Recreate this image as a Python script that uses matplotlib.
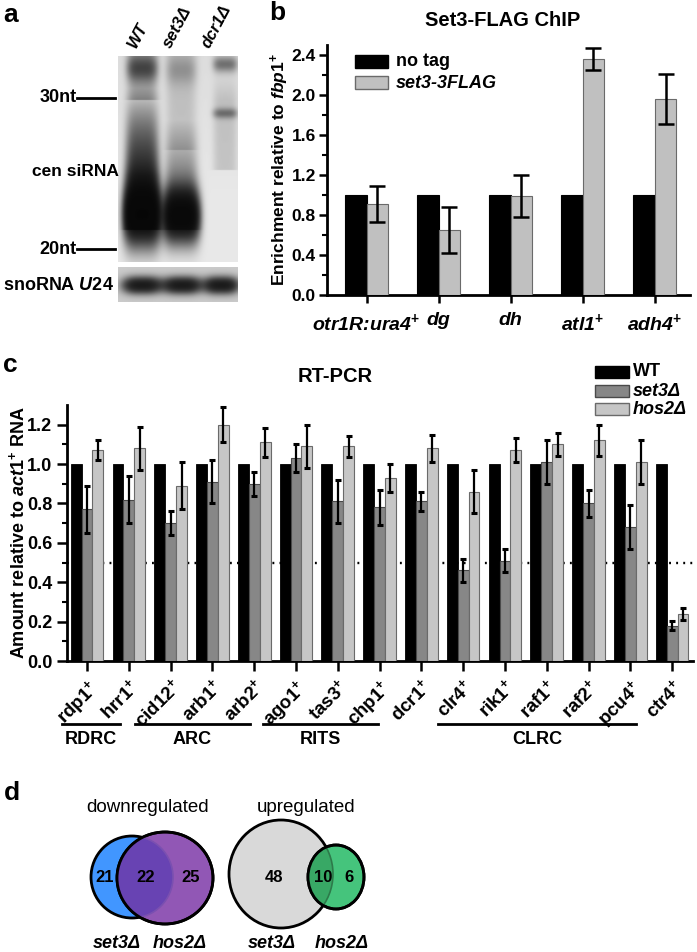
import numpy as np
import matplotlib
matplotlib.use('Agg')
import matplotlib.pyplot as plt
from matplotlib.patches import Ellipse, Rectangle

plt.rcParams['font.family'] = ['Liberation Sans', 'DejaVu Sans']
plt.rcParams['mathtext.fontset'] = 'custom'
plt.rcParams['mathtext.rm'] = 'Liberation Sans:bold'
plt.rcParams['mathtext.it'] = 'Liberation Sans:italic:bold'
plt.rcParams['mathtext.bf'] = 'Liberation Sans:bold'

# ---------------- data ----------------
# panel a (gel lanes)
gel_lanes = ['WT', 'set3Δ', 'dcr1Δ']
gel_markers = ['30nt', '20nt']

# panel b: Set3-FLAG ChIP
chip_loci = ['otr1R:ura4$^{+}$', 'dg', 'dh', 'atl1$^{+}$', 'adh4$^{+}$']
chip_notag = [1.0, 1.0, 1.0, 1.0, 1.0]
chip_flag = [0.91, 0.65, 0.99, 2.36, 1.96]
chip_flag_err = [0.18, 0.23, 0.21, 0.11, 0.25]

# panel c: RT-PCR
genes = ['rdp1', 'hrr1', 'cid12', 'arb1', 'arb2', 'ago1', 'tas3', 'chp1',
         'dcr1', 'clr4', 'rik1', 'raf1', 'raf2', 'pcu4', 'ctr4']
wt_vals = [1.0] * 15
set3_vals = [0.77, 0.82, 0.70, 0.91, 0.90, 1.03, 0.81, 0.78, 0.81, 0.46,
             0.51, 1.01, 0.80, 0.68, 0.18]
set3_err = [0.12, 0.12, 0.06, 0.11, 0.06, 0.07, 0.11, 0.09, 0.05, 0.06,
            0.06, 0.11, 0.07, 0.11, 0.025]
hos2_vals = [1.07, 1.08, 0.89, 1.20, 1.11, 1.09, 1.09, 0.93, 1.08, 0.86,
             1.07, 1.10, 1.12, 1.01, 0.24]
hos2_err = [0.05, 0.11, 0.12, 0.09, 0.075, 0.11, 0.055, 0.07, 0.07, 0.11,
            0.06, 0.06, 0.08, 0.11, 0.03]
complexes = ['RDRC', 'ARC', 'RITS', 'CLRC']

# panel d: Venn counts (set3 only, shared, hos2 only)
down_counts = [21, 22, 25]
up_counts = [48, 10, 6]

# ---------------- figure ----------------
W, H = 697, 952
fig = plt.figure(figsize=(W / 100, H / 100), dpi=100)

def box(l, t, r, b):
    return [l / W, 1 - b / H, (r - l) / W, (b - t) / H]

ov = fig.add_axes([0, 0, 1, 1])
ov.set_xlim(0, W)
ov.set_ylim(H, 0)
ov.axis('off')
ov.set_zorder(10)

FS = 13
def T(x, y, s, size=FS, **kw):
    kw.setdefault('fontweight', 'bold')
    kw.setdefault('ha', 'center')
    kw.setdefault('va', 'center')
    ov.text(x, y, s, fontsize=size, **kw)

# panel letters
T(11, 15, 'a', 19)
T(277, 13, 'b', 19)
T(10, 365, 'c', 19)
T(12, 793, 'd', 19)

# ---------------- panel a: gel ----------------
yy, xx = np.mgrid[56:262:0.5, 118:238:0.5]
def lane(cx, hw, p=4):
    return np.exp(-np.abs((xx - cx) / hw) ** p)
def band(cy, s):
    return np.exp(-((yy - cy) / s) ** 2)
def ramp(y0, y1):
    return np.clip((yy - y0) / (y1 - y0), 0, 1)
dark = np.zeros_like(xx)
# WT lane
dark += 2.4 * lane(142, 18) * band(214, 28)
dark += 1.3 * lane(142, 16) * ramp(88, 175) * (yy < 230)
dark += 0.6 * lane(142, 15) * band(68, 12)
dark += 0.3 * lane(142, 15) * (yy < 100)
# set3 lane
dark += 2.2 * lane(181, 18) * band(216, 24)
dark += 0.6 * lane(181, 16) * ramp(120, 190) * (yy < 230)
dark += 0.22 * lane(181, 15) * band(70, 14)
dark += 0.15 * lane(181, 15) * (yy < 150)
# dcr1 lane
dark += 0.55 * lane(225, 12) * band(64, 8)
dark += 0.45 * lane(225, 12) * band(113, 5)
dark += 0.15 * lane(225, 12) * ramp(70, 100) * (yy < 170)
dark += 0.05 * (1 - ramp(56, 200))
img = 0.91 - 0.88 * np.tanh(dark)
ov.imshow(img, cmap='gray', vmin=0, vmax=1, extent=(118, 238, 262, 56),
          aspect='auto', interpolation='bilinear', zorder=1)

yy2, xx2 = np.mgrid[267:302:0.5, 118:238:0.5]
dark2 = np.zeros_like(xx2)
for cx, hw in [(142, 19), (182, 19), (221, 17)]:
    dark2 += 1.6 * np.exp(-np.abs((xx2 - cx) / hw) ** 3) * np.exp(-((yy2 - 285) / 8) ** 2)
img2 = 0.80 - 0.75 * np.tanh(dark2)
ov.imshow(img2, cmap='gray', vmin=0, vmax=1, extent=(118, 238, 302, 267),
          aspect='auto', interpolation='bilinear', zorder=1)

for (lx, ly), s in zip([(138, 50), (173, 50), (212, 50)], gel_lanes):
    T(lx, ly, s, 12, style='italic', rotation=62, ha='left', va='bottom',
      rotation_mode='anchor')

for s, y in zip(gel_markers, [98, 249]):
    T(77, y, s, 13, ha='right')
    ov.plot([77, 115], [y, y], color='black', lw=2)
T(75, 171, 'cen siRNA', 12.5)
T(58, 285, 'snoRNA $\\mathit{U24}$', 13)

# ---------------- panel b ----------------
axb = fig.add_axes(box(327, 45, 690, 295))
axb.set_facecolor('none')
xb = np.arange(len(chip_loci))
wb = 0.30
axb.bar(xb - wb / 2, chip_notag, wb, color='black', edgecolor='black', lw=0.8, zorder=3)
axb.bar(xb + wb / 2, chip_flag, wb, color='#C0C0C0', edgecolor='#6a6a6a', lw=0.8,
        yerr=chip_flag_err, capsize=6,
        error_kw=dict(elinewidth=1.8, capthick=1.8, ecolor='black'), zorder=3)
axb.set_xlim(-0.55, 4.49)
axb.set_ylim(0, 2.5)
axb.set_yticks(np.arange(0, 2.41, 0.4))
axb.set_yticks(np.arange(0.2, 2.5, 0.4), minor=True)
axb.set_yticklabels([f'{v:.1f}' for v in np.arange(0, 2.41, 0.4)])
axb.set_xticks(xb)
axb.set_xticklabels(chip_loci, fontstyle='italic')
axb.set_ylabel('Enrichment relative to $\\mathit{fbp1}^{+}$', fontsize=12.5,
               fontweight='bold')
axb.yaxis.set_label_coords(-0.098, 0.5)
for sp in ['top', 'right']:
    axb.spines[sp].set_visible(False)
for sp in ['left', 'bottom']:
    axb.spines[sp].set_linewidth(2)
axb.tick_params(axis='both', which='major', length=6, width=1.8, labelsize=12.5)
axb.tick_params(axis='y', pad=2)
axb.tick_params(axis='x', labelsize=14, pad=6)
axb.tick_params(axis='y', which='minor', length=3.5, width=1.5)
for lab in axb.get_xticklabels() + axb.get_yticklabels():
    lab.set_fontweight('bold')
T(503, 20, 'Set3-FLAG ChIP', 14.5)

# legend b (manual)
for (y0, fc, ec), s, st in zip([(55, 'black', 'black'), (76, '#C0C0C0', '#6a6a6a')],
                               ['no tag', 'set3-3FLAG'], ['normal', 'italic']):
    ov.add_patch(Rectangle((355, y0), 33, 13, fc=fc, ec=ec, lw=1, zorder=5))
    T(396, y0 + 7, s, 13, ha='left', style=st)

# ---------------- panel c ----------------
axc = fig.add_axes(box(67, 405, 693, 661))
axc.set_facecolor('none')
xc = np.arange(len(genes))
wc = 0.26
axc.axhline(0.5, color='black', lw=1.7, ls=(0, (0.8, 2.2)), zorder=1)
axc.bar(xc - wc, wt_vals, wc, color='black', edgecolor='black', lw=0.6, zorder=3)
ek = dict(elinewidth=1.6, capthick=2.2, ecolor='black')
axc.bar(xc, set3_vals, wc, color='#878787', edgecolor='#4a4a4a', lw=0.8,
        yerr=set3_err, capsize=2.3, error_kw=ek, zorder=3)
axc.bar(xc + wc, hos2_vals, wc, color='#C6C6C6', edgecolor='#6a6a6a', lw=0.8,
        yerr=hos2_err, capsize=2.3, error_kw=ek, zorder=3)
axc.set_xlim(-0.48, 14.5)
axc.set_ylim(0, 1.3)
axc.set_yticks(np.arange(0, 1.21, 0.2))
axc.set_yticks(np.arange(0.1, 1.3, 0.2), minor=True)
axc.set_yticklabels([f'{v:.1f}' for v in np.arange(0, 1.21, 0.2)])
axc.set_xticks(xc)
axc.set_xticklabels([g + '$^{+}$' for g in genes], rotation=45, ha='right',
                    va='top', rotation_mode='anchor')
axc.set_ylabel('Amount relative to $\\mathit{act1}^{+}$ RNA', fontsize=FS,
               fontweight='bold')
axc.yaxis.set_label_coords(-0.062, 0.5)
for sp in ['top', 'right']:
    axc.spines[sp].set_visible(False)
for sp in ['left', 'bottom']:
    axc.spines[sp].set_linewidth(2)
axc.tick_params(axis='both', which='major', length=7, width=1.8, labelsize=FS)
axc.tick_params(axis='x', labelsize=13.5, pad=4)
axc.tick_params(axis='y', which='minor', length=3.5, width=1.5)
for lab in axc.get_xticklabels() + axc.get_yticklabels():
    lab.set_fontweight('bold')
T(335, 377, 'RT-PCR', 14.5)

for (y0, fc, ec), s, st in zip([(366, 'black', 'black'), (385, '#878787', '#4a4a4a'),
                                (403, '#C6C6C6', '#6a6a6a')],
                               ['WT', 'set3Δ', 'hos2Δ'], ['normal', 'italic', 'italic']):
    ov.add_patch(Rectangle((595, y0), 34, 12, fc=fc, ec=ec, lw=1, zorder=5))
    T(633, y0 + 6, s, 13, ha='left', style=st)

# complex groupings
group_spans = [(62, 120), (135, 250), (263, 378), (438, 636)]
for (x0, x1), name in zip(group_spans, complexes):
    ov.plot([x0, x1], [724, 724], color='black', lw=2)
    T((x0 + x1) / 2, 740, name, 13)

# ---------------- panel d: Venn ----------------
T(148, 807, 'downregulated', 13.5, fontweight='normal')
T(306, 807, 'upregulated', 13.5, fontweight='normal')

def venn(c1, s1, c2, s2, f1, f2, fi, ei):
    e1 = Ellipse(c1, *s1, fc=f1, ec='black', lw=2, zorder=2)
    e2 = Ellipse(c2, *s2, fc=f2, ec='black', lw=2, zorder=3)
    ov.add_patch(e1)
    ov.add_patch(e2)
    ei_p = Ellipse(c1, *s1, fc=fi, ec=ei, lw=1.2, zorder=4)
    ov.add_patch(ei_p)
    ei_p.set_clip_path(e2)
    ov.add_patch(Ellipse(c2, *s2, fc='none', ec='black', lw=2, zorder=5))

venn((132, 877), (82, 82), (165, 878), (96, 92), '#4196FF', '#9157B5', '#6843B3', '#7a50b0')
eg = Ellipse((281, 874), 104, 108, fc='#D9D9D9', ec='black', lw=2, zorder=2)
ov.add_patch(eg)
egr = Ellipse((336, 877), 56, 64, fc='#45C47C', ec='black', lw=2, zorder=3)
ov.add_patch(egr)
eint = Ellipse((281, 874), 104, 108, fc='#38A865', ec='#2d7a4a', lw=1.2, zorder=4)
ov.add_patch(eint)
eint.set_clip_path(egr)
ov.add_patch(Ellipse((336, 877), 56, 64, fc='none', ec='black', lw=2, zorder=5))

for x, n in zip([105, 146, 191], down_counts):
    T(x, 877, str(n), 12, zorder=6)
for x, n in zip([274, 323, 349], up_counts):
    T(x, 877, str(n), 12, zorder=6)
for x, s in zip([117, 180, 272, 342], ['set3Δ', 'hos2Δ', 'set3Δ', 'hos2Δ']):
    T(x, 943, s, 13, style='italic')

fig.savefig('out.png', dpi=100)
